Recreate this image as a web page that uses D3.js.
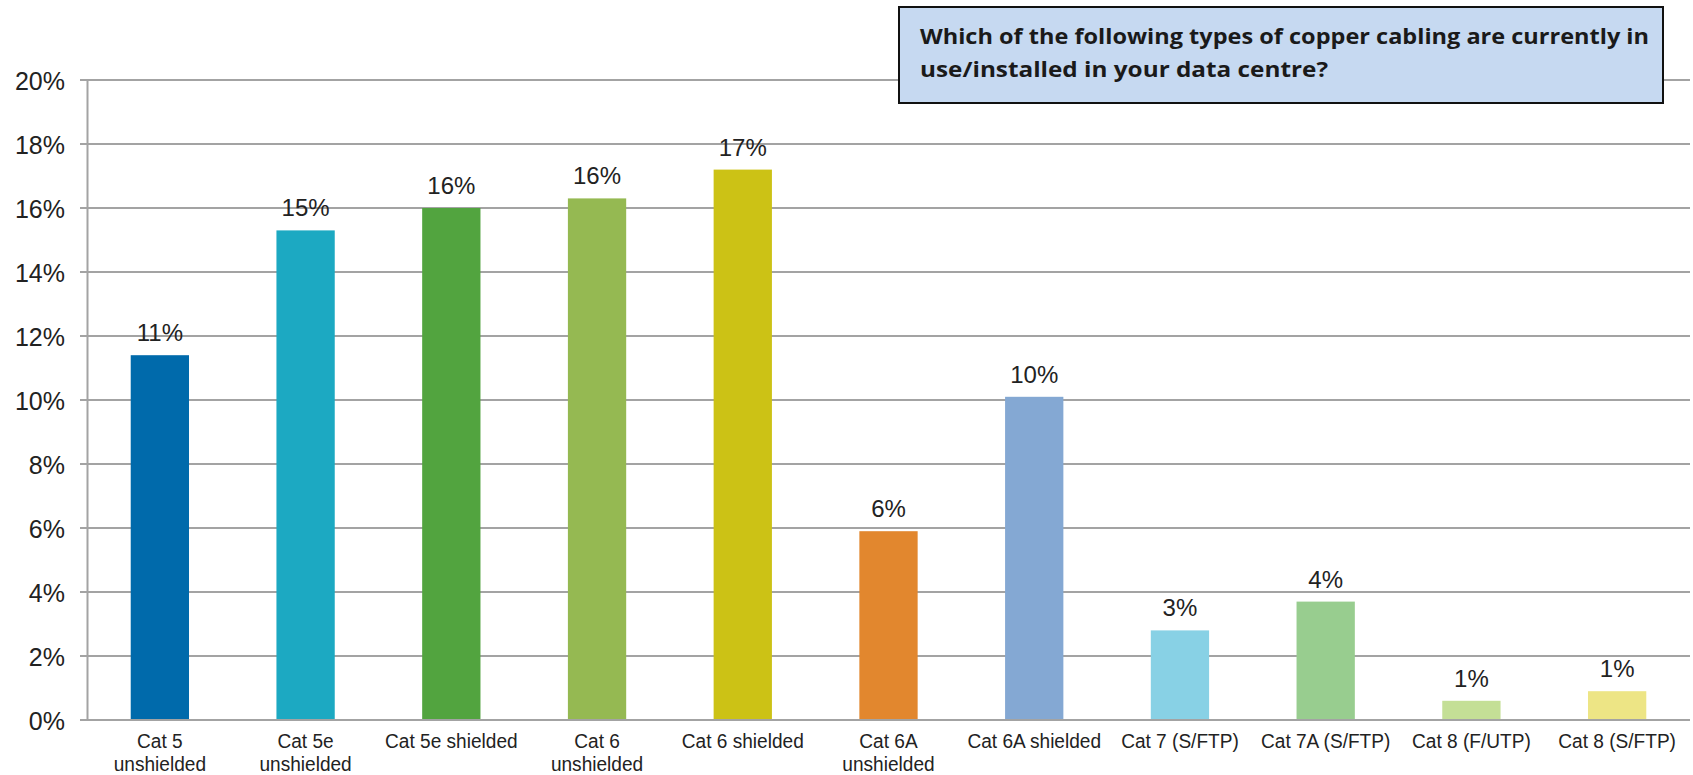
<!DOCTYPE html>
<html>
<head>
<meta charset="utf-8">
<script src="https://cdn.jsdelivr.net/npm/d3@7"></script>
<style>
  body { margin: 0; background: #fff; }
  svg { display: block; }
</style>
</head>
<body>
<div class="canvas"></div>
<script>

const categories = [
    ['Cat 5', 'unshielded'],
    ['Cat 5e', 'unshielded'],
    ['Cat 5e shielded'],
    ['Cat 6', 'unshielded'],
    ['Cat 6 shielded'],
    ['Cat 6A', 'unshielded'],
    ['Cat 6A shielded'],
    ['Cat 7 (S/FTP)'],
    ['Cat 7A (S/FTP)'],
    ['Cat 8 (F/UTP)'],
    ['Cat 8 (S/FTP)']
];
const values = [11.4, 15.3, 16.0, 16.3, 17.2, 5.9, 10.1, 2.8, 3.7, 0.6, 0.9];
const colors = ['#006aab', '#1ca9c2', '#52a43f', '#95b952', '#ccc215', '#e2872e',
                '#84a8d3', '#88d1e5', '#98cd8f', '#c4df96', '#ede585'];
const yTicks = [0, 2, 4, 6, 8, 10, 12, 14, 16, 18, 20];
const titleLines = ['Which of the following types of copper cabling are currently in',
                    'use/installed in your data centre?'];

const width = 1693, height = 775;
const margin = {top: 80, right: 3, bottom: 55, left: 87};
const graphWidth = width - margin.left - margin.right;
const graphHeight = height - margin.top - margin.bottom;

const svg = d3.select('.canvas')
  .append('svg')
    .attr('width', width)
    .attr('height', height);

const graph = svg.append('g')
    .attr('transform', `translate(${margin.left}, ${margin.top})`);

const x = d3.scaleBand()
    .domain(d3.range(categories.length))
    .range([0, graphWidth])
    .paddingInner(0.6)
    .paddingOuter(0.3);

const y = d3.scaleLinear()
    .domain([0, 20])
    .range([graphHeight, 0]);

// gridlines
graph.append('g')
  .selectAll('line')
  .data(yTicks)
  .enter().append('line')
    .attr('x1', -7)
    .attr('x2', graphWidth)
    .attr('y1', d => y(d))
    .attr('y2', d => y(d))
    .attr('stroke', '#a3a3a3')
    .attr('stroke-width', 2);

// y axis
const yAxis = d3.axisLeft(y)
    .tickValues(yTicks)
    .tickFormat(d => d + '%')
    .tickSize(0)
    .tickPadding(22);

const yAxisGroup = graph.append('g').call(yAxis);
yAxisGroup.select('.domain')
    .attr('stroke', '#a3a3a3')
    .attr('stroke-width', 2);
yAxisGroup.selectAll('text')
    .attr('font-family', 'Liberation Sans, Arial, sans-serif')
    .attr('font-size', 25)
    .attr('fill', '#222')
    .attr('dy', '0.36em');

// bars
graph.selectAll('rect.bar')
  .data(values)
  .enter().append('rect')
    .attr('class', 'bar')
    .attr('x', (d, i) => x(i))
    .attr('y', d => y(d))
    .attr('width', x.bandwidth())
    .attr('height', d => graphHeight - y(d))
    .attr('fill', (d, i) => colors[i]);

// value labels
graph.selectAll('text.value')
  .data(values)
  .enter().append('text')
    .attr('class', 'value')
    .attr('x', (d, i) => x(i) + x.bandwidth() / 2)
    .attr('y', d => y(d) - 14)
    .attr('text-anchor', 'middle')
    .attr('font-family', 'Liberation Sans, Arial, sans-serif')
    .attr('font-size', 24)
    .attr('fill', '#222')
    .text(d => Math.round(d) + '%');

// x axis line
graph.append('line')
    .attr('x1', -7)
    .attr('x2', graphWidth)
    .attr('y1', graphHeight)
    .attr('y2', graphHeight)
    .attr('stroke', '#a3a3a3')
    .attr('stroke-width', 2);

// category labels
const xLabels = graph.selectAll('text.cat')
  .data(categories)
  .enter().append('text')
    .attr('class', 'cat')
    .attr('text-anchor', 'middle')
    .attr('font-family', 'Liberation Sans, Arial, sans-serif')
    .attr('font-size', 18)
    .attr('fill', '#222')
    .attr('transform', (d, i) => `translate(${x(i) + x.bandwidth() / 2}, ${graphHeight + 28}) scale(1.06,1.1)`);

xLabels.selectAll('tspan')
  .data(d => d)
  .enter().append('tspan')
    .attr('x', 0)
    .attr('dy', (d, i) => i === 0 ? 0 : 20.5)
    .text(d => d);

// title box
const box = svg.append('g');
box.append('rect')
    .attr('x', 899)
    .attr('y', 7)
    .attr('width', 764)
    .attr('height', 96)
    .attr('fill', '#c6d9f1')
    .attr('stroke', '#111')
    .attr('stroke-width', 2);

box.selectAll('text')
  .data(titleLines)
  .enter().append('text')
    .attr('x', 920)
    .attr('y', (d, i) => 44 + i * 33)
    .attr('font-family', 'Open Sans, sans-serif')
    .attr('font-weight', 'bold')
    .attr('font-size', 22)
    .attr('fill', '#1a1a1a')
    .attr('textLength', (d, i) => i === 0 ? 729 : 408)
    .attr('lengthAdjust', 'spacingAndGlyphs')
    .text(d => d);

</script>
</body>
</html>
